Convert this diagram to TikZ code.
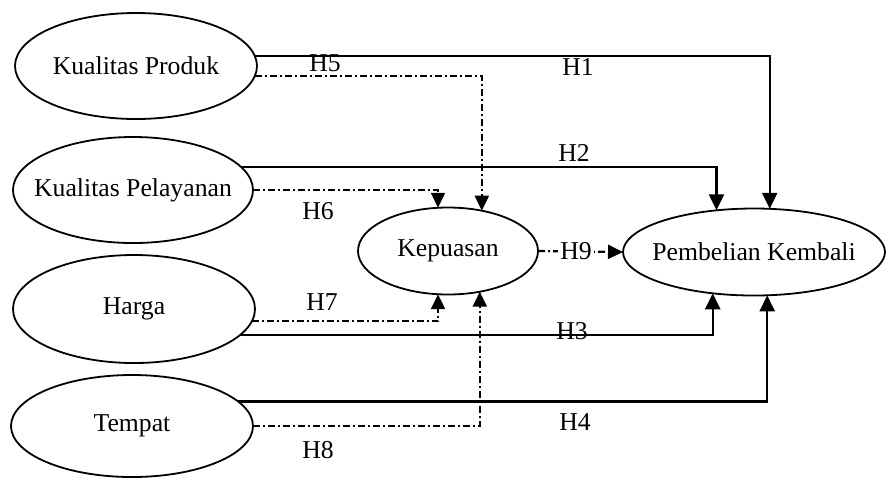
\documentclass[tikz,border=0pt]{standalone}
\usepackage{fontspec}
\setmainfont{Liberation Serif}
\usetikzlibrary{arrows.meta,shapes.geometric}
\begin{document}
\begin{tikzpicture}[x=0.5pt,y=-0.5pt,
  latent/.style={ellipse,draw,line width=0.9pt,inner sep=0pt,outer sep=0pt,font=\fontsize{12.85}{15}\selectfont},
  lbl/.style={font=\fontsize{12.85}{15}\selectfont,inner sep=0pt},
  direct/.style={line width=1.1pt,-{Triangle[length=8pt,width=7.5pt]}},
  mediated/.style={line width=1.1pt,dash pattern=on 3.5pt off 1.5pt on 1pt off 1.5pt,-{Triangle[length=7.5pt,width=7pt]}}]
\useasboundingbox (0,0) rectangle (887,479);
\node[latent,minimum width=121pt,minimum height=53pt] (kprod) at (136,66) {\makebox[0pt]{Kualitas Produk}};
\node[latent,minimum width=120pt,minimum height=53pt] (kpel) at (133,190) {\makebox[0pt]{Kualitas Pelayanan}};
\node[latent,minimum width=121pt,minimum height=54pt] (harga) at (134,309) {\makebox[0pt]{Harga}};
\node[latent,minimum width=121pt,minimum height=51pt] (tempat) at (132,426) {\makebox[0pt]{Tempat}};
\node[latent,minimum width=90pt,minimum height=43.5pt] (kep) at (448,251) {\makebox[0pt]{Kepuasan}};
\node[latent,minimum width=131pt,minimum height=43.5pt] (pk) at (754,252) {\makebox[0pt]{Pembelian Kembali}};
\draw[direct] (kprod.5) -| (pk.70);
\draw[mediated] (kprod.-5) -| (kep.50);
\draw[direct] (kpel.12) -| (pk.132);
\draw[mediated] (kpel.east) -| (kep.103);
\draw[mediated] (harga.-6) -| (kep.-103);
\draw[direct] (harga.-14) -| (pk.-135);
\draw[direct] (tempat.13) -| (pk.-73);
\draw[mediated] (tempat.east) -| (kep.-52);
\draw[mediated] (kep.east) -- (pk.west);
\node[lbl] (h1) at (578,67) {H1};
\node[lbl] (h5) at (325,63) {H5};
\node[lbl] (h2) at (574,153) {H2};
\node[lbl] (h6) at (318,211) {H6};
\node[lbl] (h7) at (322,302) {H7};
\node[lbl] (h3) at (572,331) {H3};
\node[lbl] (h8) at (318,450) {H8};
\node[lbl] (h4) at (575,422) {H4};
\node[lbl,fill=white,inner sep=1pt] (h9) at (576,251) {H9};
\end{tikzpicture}
\end{document}
